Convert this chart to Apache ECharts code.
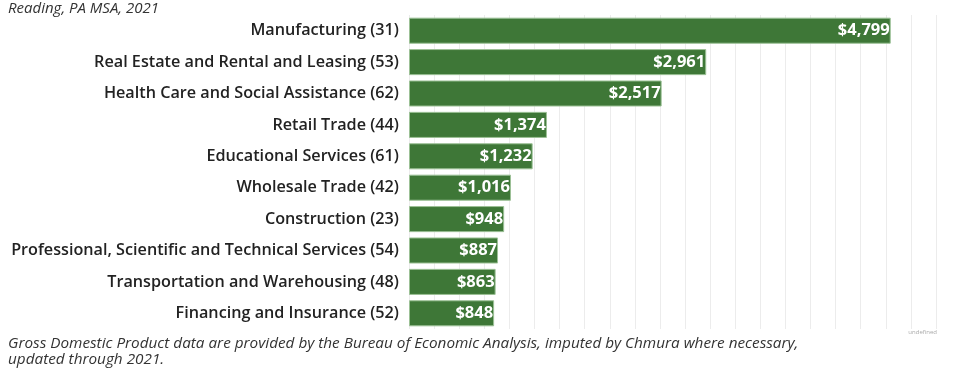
<!DOCTYPE html>
<html>
<head>
<meta charset="utf-8">
<script src="https://cdn.jsdelivr.net/npm/echarts@6/dist/echarts.min.js"></script>
<style>
  html, body { margin: 0; padding: 0; background: #fff; }
  #chart { width: 954px; height: 375px; }
</style>
</head>
<body>
<div id="chart"></div>
<script>
// industries (NAICS code in brackets), top to bottom
var industries = [
	"Manufacturing (31)",
	"Real Estate and Rental and Leasing (53)",
	"Health Care and Social Assistance (62)",
	"Retail Trade (44)",
	"Educational Services (61)",
	"Wholesale Trade (42)",
	"Construction (23)",
	"Professional, Scientific and Technical Services (54)",
	"Transportation and Warehousing (48)",
	"Financing and Insurance (52)"
];
// GDP, millions of dollars
var gdpValues = [4799, 2961, 2517, 1374, 1232, 1016, 948, 887, 863, 848];

var titleText = "Reading, PA MSA, 2021";
var footText = "Gross Domestic Product data are provided by the Bureau of Economic Analysis, imputed by Chmura where necessary,\nupdated through 2021.";

var font = "Open Sans";

function money(v) {
	return "$" + v.toString().replace(/\B(?=(\d{3})+(?!\d))/g, ",");
}

var myChart = echarts.init(document.getElementById("chart"));
myChart.setOption({
	animation: false,
	grid: {
		left: 409,
		right: 18,
		top: 15,
		bottom: 46
	},
	graphic: [{
		type: "text",
		left: 8,
		top: 1,
		style: {
			text: titleText,
			font: "italic 15px " + font,
			fill: "#333"
		}
	}, {
		type: "text",
		left: 8,
		top: 336,
		style: {
			text: footText,
			font: "italic 15.3px " + font,
			fill: "#333",
			lineHeight: 16
		}
	}, {
		type: "text",
		right: 17,
		top: 329,
		style: {
			text: "undefined",
			font: "6px " + font,
			fill: "#aaa"
		}
	}],
	xAxis: {
		type: "value",
		min: 0,
		max: 5250,
		interval: 250,
		axisLine: { show: false },
		axisTick: { show: false },
		axisLabel: { show: false },
		splitLine: { lineStyle: { color: "#ececec", width: 1 } }
	},
	yAxis: {
		type: "category",
		inverse: true,
		data: industries,
		axisLine: { show: false },
		axisTick: { show: false },
		axisLabel: {
			margin: 10,
			fontFamily: font,
			fontSize: 16.2,
			fontWeight: 600,
			color: "#222"
		}
	},
	series: [{
		type: "bar",
		data: gdpValues,
		barCategoryGap: "17%",
		itemStyle: {
			color: "#3e7737",
			borderColor: "#9cc196",
			borderWidth: 1
		},
		label: {
			show: true,
			position: "insideRight",
			distance: 1,
			formatter: function (p) { return money(p.value); },
			fontFamily: font,
			fontSize: 16.5,
			fontWeight: 700,
			color: "#fff"
		}
	}]
});
</script>
</body>
</html>
